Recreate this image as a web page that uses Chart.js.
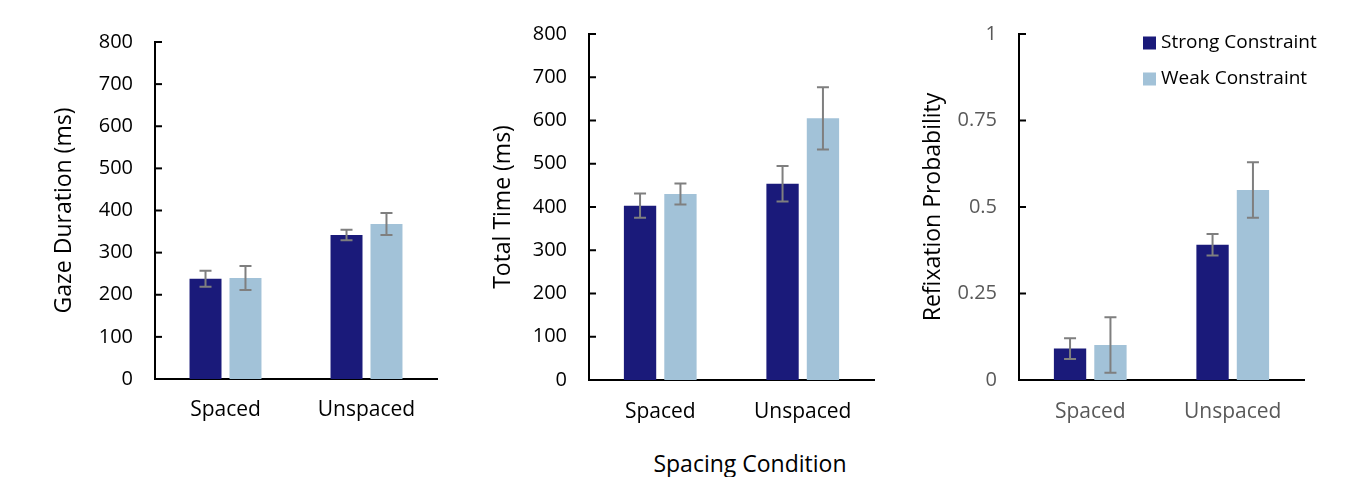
<!DOCTYPE html>
<html>
<head>
<meta charset="utf-8">
<script src="https://cdn.jsdelivr.net/npm/chart.js@4.4.0/dist/chart.umd.min.js"></script>
<style>
  body { margin: 0; background: #fff; }
  #wrap { position: relative; width: 1348px; height: 477px; background: #fff; overflow: hidden; }
  canvas { position: absolute; top: 0; }
  #xtitle { position: absolute; left: 600px; width: 300px; top: 447px; text-align: center;
            font: 23px "Open Sans", sans-serif; color: #000; }
</style>
</head>
<body>
<div id="wrap">
  <canvas id="c1" width="450" height="440" style="left:0px"></canvas>
  <canvas id="c2" width="450" height="440" style="left:450px"></canvas>
  <canvas id="c3" width="448" height="440" style="left:900px"></canvas>
  <div id="xtitle">Spacing Condition</div>
</div>
<script>
// data
const categories = ['Spaced', 'Unspaced'];
const seriesNames = ['Strong Constraint', 'Weak Constraint'];

const gazeStrong = [238, 342];
const gazeStrongErr = [19, 12.5];
const gazeWeak = [240, 368];
const gazeWeakErr = [28.5, 26];

const totalStrong = [403, 454];
const totalStrongErr = [28, 41];
const totalWeak = [430, 605];
const totalWeakErr = [24.5, 72];

const refixStrong = [0.091, 0.391];
const refixStrongErr = [0.03, 0.031];
const refixWeak = [0.101, 0.549];
const refixWeakErr = [0.08, 0.08];

const msTicks = [0, 100, 200, 300, 400, 500, 600, 700, 800];
const probTicks = [0, 0.25, 0.5, 0.75, 1];

const strongColor = '#1a1a7a';
const weakColor = '#a2c2d8';
const errColor = '#7f7f7f';
const FONT = '"Open Sans", sans-serif';

// error bars from the dataset's own errors array
const errorBars = {
    id: 'errorBars',
    afterDatasetsDraw(chart) {
        const ctx = chart.ctx;
        const yScale = chart.scales.y;
        ctx.save();
        ctx.strokeStyle = errColor;
        ctx.lineWidth = 2;
        chart.data.datasets.forEach((ds, i) => {
            const meta = chart.getDatasetMeta(i);
            meta.data.forEach((bar, j) => {
                const v = ds.data[j];
                const e = ds.errors[j];
                const top = yScale.getPixelForValue(v + e);
                const bot = yScale.getPixelForValue(v - e);
                ctx.beginPath();
                ctx.moveTo(bar.x, top); ctx.lineTo(bar.x, bot);
                ctx.moveTo(bar.x - 6, top); ctx.lineTo(bar.x + 6, top);
                ctx.moveTo(bar.x - 6, bot); ctx.lineTo(bar.x + 6, bot);
                ctx.stroke();
            });
        });
        ctx.restore();
    }
};

// tick marks pointing into the plot, Excel style
const insideTicks = {
    id: 'insideTicks',
    afterDraw(chart) {
        const ctx = chart.ctx;
        const yScale = chart.scales.y;
        const x = chart.chartArea.left;
        ctx.save();
        ctx.strokeStyle = '#000';
        ctx.lineWidth = 2;
        yScale.ticks.forEach(t => {
            const y = yScale.getPixelForValue(t.value);
            ctx.beginPath();
            ctx.moveTo(x, y); ctx.lineTo(x + 7, y);
            ctx.stroke();
        });
        ctx.restore();
    }
};

// legend inside the third panel
const cornerLegend = {
    id: 'cornerLegend',
    afterDraw(chart) {
        const ctx = chart.ctx;
        ctx.save();
        ctx.font = '19px ' + FONT;
        ctx.textBaseline = 'middle';
        chart.data.datasets.forEach((ds, i) => {
            const y = 43 + i * 36;
            ctx.fillStyle = ds.backgroundColor;
            ctx.fillRect(243, y - 6.5, 13, 13);
            ctx.fillStyle = '#000';
            ctx.fillText(ds.label, 261, y);
        });
        ctx.restore();
    }
};

function makeChart(id, o) {
    const plugins = [errorBars, insideTicks];
    if (o.legend) plugins.push(cornerLegend);
    return new Chart(document.getElementById(id), {
        type: 'bar',
        data: {
            labels: categories,
            datasets: [
                { label: seriesNames[0], data: o.strong, errors: o.strongErr, backgroundColor: strongColor },
                { label: seriesNames[1], data: o.weak, errors: o.weakErr, backgroundColor: weakColor }
            ]
        },
        options: {
            responsive: false,
            animation: false,
            events: [],
            layout: { padding: { left: o.padLeft, right: o.padRight, top: o.top, bottom: 0 } },
            datasets: { bar: { barPercentage: 0.8, categoryPercentage: 0.567 } },
            plugins: { legend: { display: false }, tooltip: { enabled: false } },
            scales: {
                x: {
                    grid: { display: false, drawTicks: false },
                    border: { color: '#000', width: 2 },
                    ticks: { color: o.tickColor, font: { family: FONT, size: 21 }, padding: o.xPad },
                    afterFit: s => { s.height = 440 - o.bottom; }
                },
                y: {
                    min: o.ticks[0],
                    max: o.ticks[o.ticks.length - 1],
                    afterBuildTicks: s => { s.ticks = o.ticks.map(v => ({ value: v })); },
                    grid: { display: false, drawTicks: false },
                    border: { color: '#000', width: 2 },
                    ticks: {
                        color: o.tickColor, font: { family: FONT, size: 20 }, padding: 22,
                        callback: v => String(v)
                    },
                    title: { display: true, text: o.title, color: '#000', font: { family: FONT, size: 23 }, padding: 0 },
                    afterFit: s => { s.width = o.yWidth; }
                }
            }
        },
        plugins: plugins
    });
}

makeChart('c1', {
    strong: gazeStrong, strongErr: gazeStrongErr, weak: gazeWeak, weakErr: gazeWeakErr,
    ticks: msTicks, title: 'Gaze Duration (ms)', tickColor: '#000',
    padLeft: 51, yWidth: 104, padRight: 13, top: 42, bottom: 379, xPad: 18
});
makeChart('c2', {
    strong: totalStrong, strongErr: totalStrongErr, weak: totalWeak, weakErr: totalWeakErr,
    ticks: msTicks, title: 'Total Time (ms)', tickColor: '#000',
    padLeft: 40, yWidth: 99, padRight: 26, top: 34, bottom: 380, xPad: 19
});
makeChart('c3', {
    strong: refixStrong, strongErr: refixStrongErr, weak: refixWeak, weakErr: refixWeakErr,
    ticks: probTicks, title: 'Refixation Probability', tickColor: '#595959',
    padLeft: 20, yWidth: 99, padRight: 44, top: 31, bottom: 380, xPad: 19, legend: true
});
</script>
</body>
</html>
